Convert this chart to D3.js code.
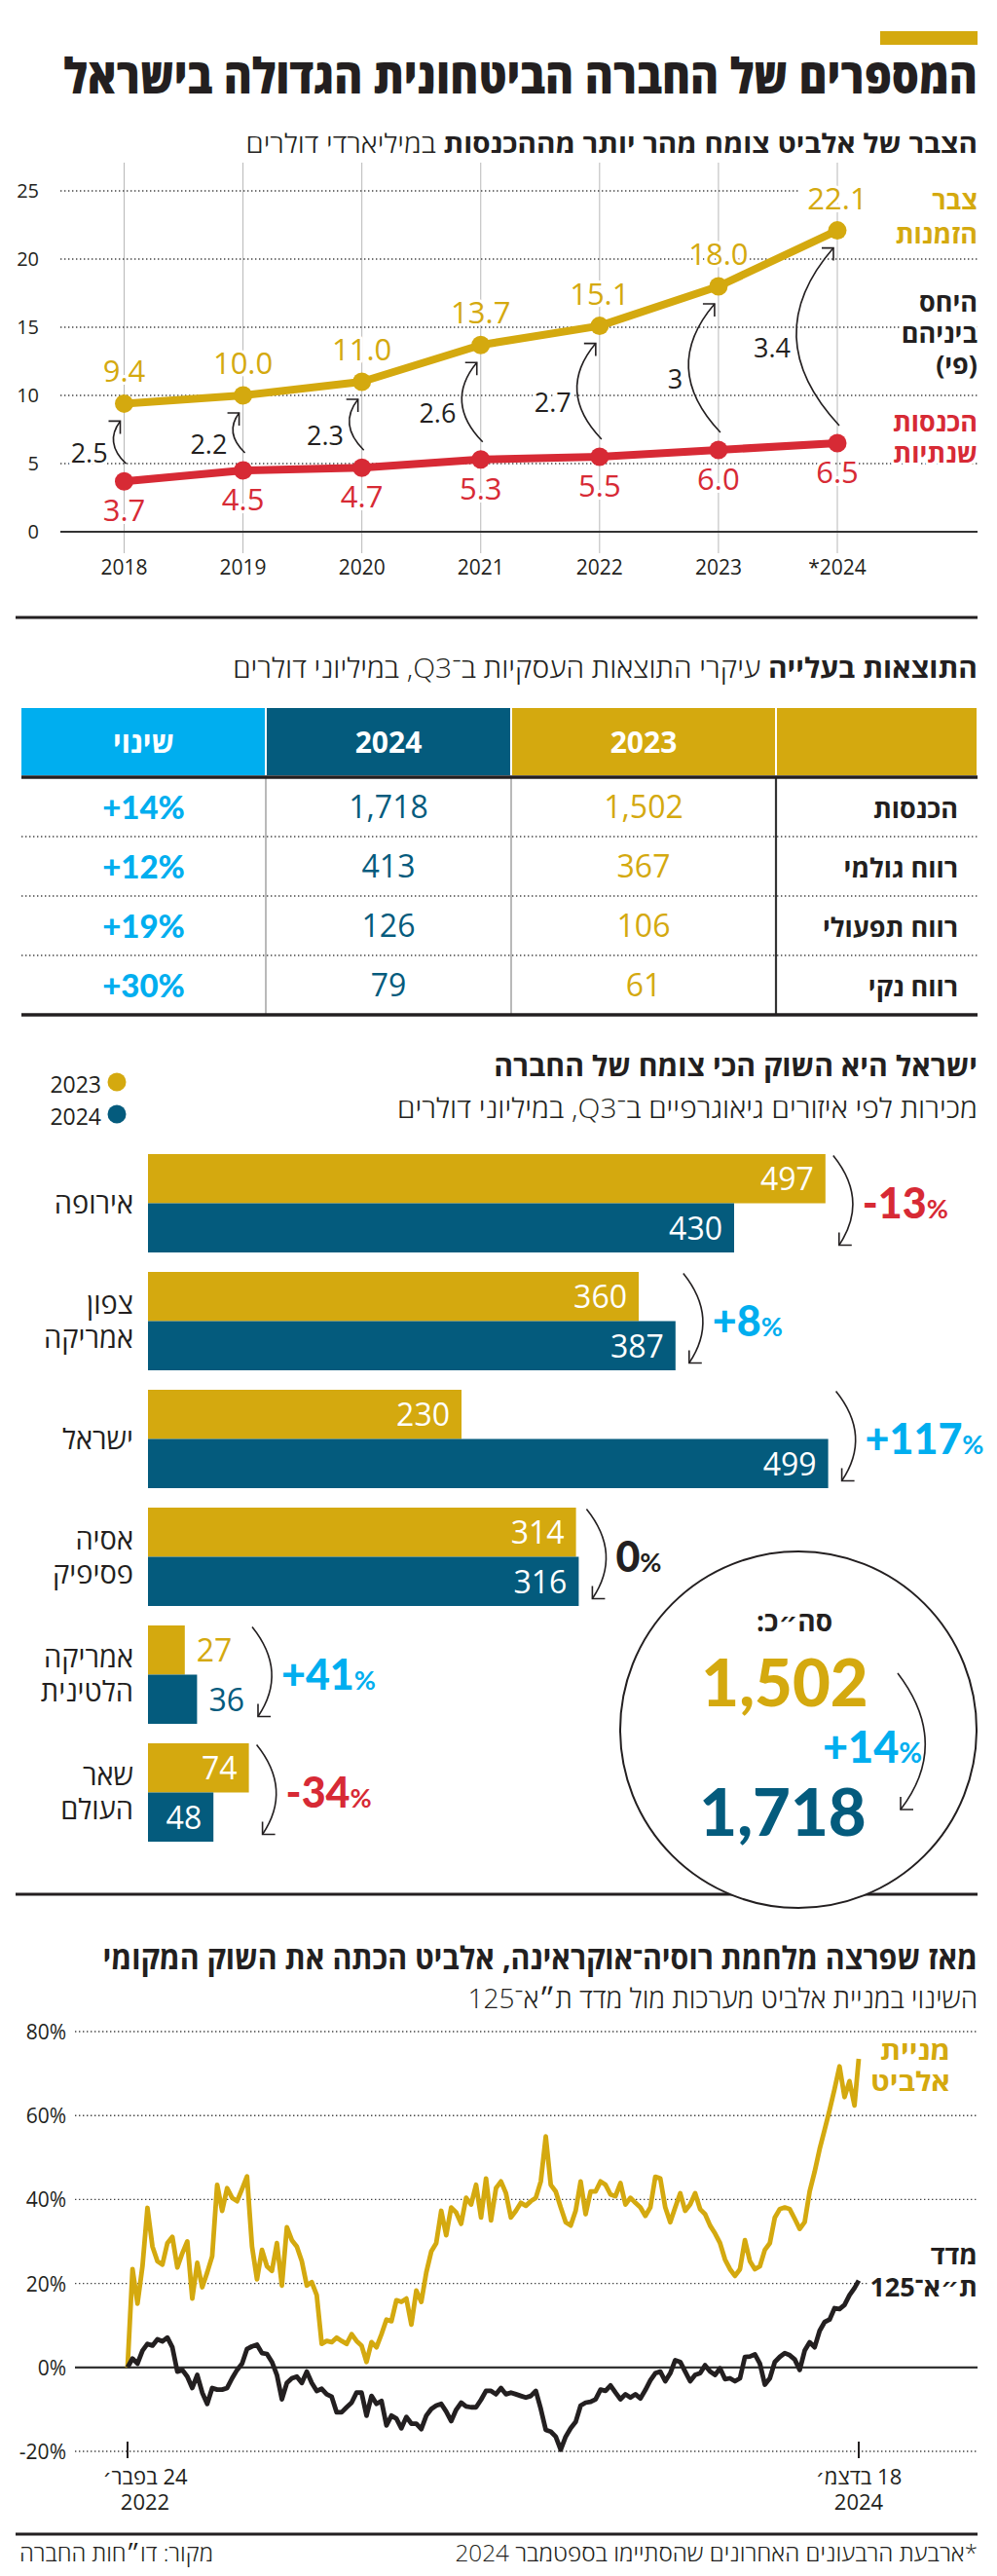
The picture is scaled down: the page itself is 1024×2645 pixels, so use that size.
<!DOCTYPE html>
<html lang="he"><head><meta charset="utf-8">
<script src="https://cdn.jsdelivr.net/npm/d3@7/dist/d3.min.js"></script>
<style>html,body{margin:0;padding:0;background:#fff}svg{display:block}</style>
</head><body>
<svg id="c" width="1024" height="2645" xmlns="http://www.w3.org/2000/svg"></svg>
<script>
// ================= DATA =================
const years = ["2018","2019","2020","2021","2022","2023","*2024"];
const backlog = [9.4,10.0,11.0,13.7,15.1,18.0,22.1];
const revenue = [3.7,4.5,4.7,5.3,5.5,6.0,6.5];
const ratio = ["2.5","2.2","2.3","2.6","2.7","3","3.4"];
const yTicks1 = [0,5,10,15,20,25];

const tableRows = ["הכנסות","רווח גולמי","רווח תפעולי","רווח נקי"];
const table2023 = [1502,367,106,61];
const table2024 = [1718,413,126,79];
const tableChange = ["+14%","+12%","+19%","+30%"];
const tableHeaders = ["שינוי","2024","2023",""];

const regions = [["אירופה"],["צפון","אמריקה"],["ישראל"],["אסיה","פסיפיק"],["אמריקה","הלטינית"],["שאר","העולם"]];
const sales2023 = [497,360,230,314,27,74];
const sales2024 = [430,387,499,316,36,48];
const salesChange = ["-13","+8","+117","0","+41","-34"];
const totalChange = "+14";

const stockStart = "2022-02-24", stockEnd = "2024-12-18";
const elbit = [0,23.4,15.2,24.1,38.0,28.8,25.3,24.5,29.6,31.1,23.8,27.2,30.0,16.4,24.9,19.1,22.6,26.5,43.5,37.3,
 42.7,40.4,39.6,42.5,45.5,28.8,21.0,28.0,24.1,23.0,29.6,19.5,33.4,30.3,28.8,25.3,19.5,20.3,17.2,5.6,
 6.3,6.0,7.1,6.3,5.6,7.9,6.3,5.2,1.3,6.0,4.8,7.9,11.4,11.0,16.0,15.6,16.4,10.2,18.3,15.6,
 22.6,27.6,29.6,37.3,31.5,38.1,36.9,34.2,40.4,38.8,43.5,35.7,45.0,35.0,42.7,44.3,41.5,35.7,37.3,39.2,
 38.5,39.6,40.4,44.3,55.0,43.5,41.9,38.1,34.6,33.8,37.3,44.3,36.5,41.9,41.9,44.3,43.5,41.2,40.8,43.9,
 38.8,40.4,39.2,38.1,36.1,38.1,45.4,45.0,38.1,34.6,38.1,41.5,37.3,38.8,41.5,37.7,36.5,33.8,31.9,29.6,
 25.7,23.4,21.8,23.4,30.3,25.3,23.4,24.1,28.0,29.6,35.7,37.7,38.1,37.7,35.4,33.0,34.6,41.9,46.6,52.0,
 56.6,61.3,66.3,71.7,64.4,68.2,62.4,73.5];
const ta125 = [0,2.1,0.9,4.0,5.6,5.2,6.7,6.2,7.1,4.8,-1.0,-0.6,-2.2,-4.9,-1.8,-6.0,-8.7,-4.9,-5.3,-5.3,
 -4.9,-2.6,-0.6,0.9,4.4,5.0,5.4,3.4,3.2,1.3,-1.8,-7.6,-3.7,-2.6,-2.2,-3.7,-1.0,-3.7,-5.6,-5.1,
 -6.4,-7.0,-10.7,-10.7,-9.5,-8.4,-6.0,-6.0,-11.5,-6.8,-8.7,-8.0,-13.8,-11.5,-12.2,-14.5,-11.8,-13.4,-13.4,-14.7,
 -11.5,-9.9,-9.1,-8.7,-10.5,-12.8,-10.1,-8.4,-9.3,-9.5,-9.5,-7.7,-5.6,-5.6,-6.4,-4.9,-6.4,-6.0,-6.4,-6.8,
 -7.2,-6.8,-5.6,-9.9,-14.9,-15.3,-16.5,-19.6,-16.5,-14.5,-13.0,-9.1,-8.4,-8.2,-7.6,-5.3,-5.6,-4.3,-6.0,-7.6,
 -6.4,-7.2,-6.4,-7.4,-5.4,-3.1,-1.4,-1.0,-3.3,-1.4,1.7,1.3,-1.0,-3.3,-1.8,-1.4,0.5,-1.0,-1.8,-0.2,
 -2.8,-2.6,-3.3,-2.6,2.5,2.6,3.1,0.9,-4.1,-2.6,1.3,2.5,3.4,2.9,1.9,-0.6,4.0,6.0,4.8,8.7,
 10.8,11.4,14.1,13.9,14.9,17.2,18.9,20.7];
const yTicks4 = [-20,0,20,40,60,80];
const stockTickLabels = [["24 בפבר׳","2022"],["18 בדצמ׳","2024"]];

// ================= STYLE =================
const GOLD="#d4a90f", RED="#d72a35", NAVY="#045b7d", CYAN="#00aeef", INK="#231f20";
const HE='"Open Sans","DejaVu Sans",sans-serif';
const NARROW='"Liberation Sans Narrow","Open Sans",sans-serif';
const BIG='Lato,"Open Sans",sans-serif';
const svg=d3.select("#c");

function T(g,x,y,s,o={}){
  const t=g.append("text").attr("x",x).attr("y",y).text(s)
    .style("font-family",o.ff||HE).style("font-size",(o.fs||20)+"px").style("font-weight",o.fw||400)
    .attr("fill",o.fill||INK).attr("text-anchor",o.anchor||"middle");
  if(o.rtl) t.attr("direction","rtl");
  if(o.halo) t.attr("stroke","#fff").attr("stroke-width",o.halo).attr("stroke-linejoin","round").attr("paint-order","stroke");
  return t;
}
function TP(g,x,y,parts,o={}){
  const t=g.append("text").attr("x",x).attr("y",y).attr("direction","rtl").attr("text-anchor",o.anchor||"start")
    .style("font-family",o.ff||HE).style("font-size",(o.fs||20)+"px").attr("fill",o.fill||INK);
  parts.forEach(([s,w])=>t.append("tspan").style("font-weight",w).text(s));
  return t;
}
// horizontal fit around the anchor point
function fit(t,w){const L=t.node().getComputedTextLength(), x=+t.attr("x");
  if(w>0 && L>0 && Math.abs(L-w)>2) t.attr("transform",`translate(${x},0) scale(${w/L},1) translate(${-x},0)`); return t;}
function hl(g,x1,x2,y,o={}){return g.append("line").attr("x1",x1).attr("x2",x2).attr("y1",y).attr("y2",y)
  .attr("stroke",o.c||INK).attr("stroke-width",o.w||3).attr("stroke-dasharray",o.dash||null);}
function vl(g,x,y1,y2,o={}){return g.append("line").attr("x1",x).attr("x2",x).attr("y1",y1).attr("y2",y2)
  .attr("stroke",o.c||INK).attr("stroke-width",o.w||1);}
const DOT="1.4 2.6";

// ================= HEADER =================
svg.append("rect").attr("x",904).attr("y",32).attr("width",100).attr("height",14).attr("fill",GOLD);
fit(T(svg,1004,96,"המספרים של החברה הביטחונית הגדולה בישראל",{fs:50,fw:800,rtl:1,anchor:"start"}),939);
fit(TP(svg,1004,157,[["הצבר של אלביט צומח מהר יותר מההכנסות ",700],["במיליארדי דולרים",300]],{fs:27}),752);

// ================= CHART 1 =================
const g1=svg.append("g");
const x1=d3.scalePoint().domain(years).range([127.5,860]);
const y1=d3.scaleLinear().domain([0,25]).range([546,196]);
years.forEach(yr=>vl(g1,x1(yr),167,568,{c:"#b8b8b8",w:1}));
yTicks1.filter(t=>t>0).forEach(t=>hl(g1,62,t===d3.max(yTicks1)?820:1004,y1(t),{c:"#444",w:1.4,dash:DOT}));
hl(g1,62,1004,y1(0),{c:"#333",w:2});
yTicks1.forEach(t=>T(g1,40,y1(t)+7,String(t),{fs:20,anchor:"end"}));
years.forEach(yr=>T(g1,x1(yr),590,yr,{fs:21}));

years.forEach((yr,i)=>{
  const px=x1(yr), top=[px-4,y1(backlog[i])+18], bot=[px+2,y1(revenue[i])-18];
  const len=bot[1]-top[1], ctrl=[px-1-0.45*len,(top[1]+bot[1])/2];
  g1.append("path").attr("d",`M${bot[0]},${bot[1]}Q${ctrl[0]},${ctrl[1]} ${top[0]},${top[1]}`)
    .attr("fill","none").attr("stroke",INK).attr("stroke-width",1.6);
  g1.append("path").attr("d",`M${top[0]-12},${top[1]}L${top[0]},${top[1]}L${top[0]},${top[1]+13}`)
    .attr("fill","none").attr("stroke",INK).attr("stroke-width",1.6);
  const bx=0.25*top[0]+0.5*ctrl[0]+0.25*bot[0];
  T(g1,bx-6,(top[1]+bot[1])/2+21,ratio[i],{fs:27,anchor:"end",halo:6});
});
const lineGen=d3.line().x((d,i)=>x1(years[i])).y(d=>y1(d));
[[revenue,RED],[backlog,GOLD]].forEach(([arr,col])=>{
  g1.append("path").datum(arr).attr("d",lineGen).attr("fill","none").attr("stroke",col).attr("stroke-width",8).attr("stroke-linejoin","round");
  g1.selectAll(null).data(arr).enter().append("circle").attr("cx",(d,i)=>x1(years[i])).attr("cy",d=>y1(d)).attr("r",9.5).attr("fill",col);
});
backlog.forEach((v,i)=>T(g1,x1(years[i]),y1(v)-22,d3.format(".1f")(v),{fs:31,fw:500,fill:GOLD,halo:6}));
revenue.forEach((v,i)=>T(g1,x1(years[i]),y1(v)+41,d3.format(".1f")(v),{fs:31,fw:500,fill:RED,halo:6}));
const legend1=[[["צבר",215],["הזמנות",250]],[["היחס",320],["ביניהם",352],["(פי)",384]],[["הכנסות",443],["שנתיות",475]]];
const legend1Col=[GOLD,INK,RED];
legend1.forEach((lines,i)=>lines.forEach(([s,y])=>T(g1,1004,y,s,{fs:27,fw:700,fill:legend1Col[i],rtl:1,anchor:"start",halo:6})));
hl(svg,16,1004,634,{w:3});

// ================= TABLE =================
const g2=svg.append("g");
fit(TP(g2,1004,696,[["התוצאות בעלייה ",700],["עיקרי התוצאות העסקיות ב־Q3, במיליוני דולרים",300]],{fs:28}),765);
const colEdges=[22,273,525,797,1004], colFills=[CYAN,NAVY,GOLD,GOLD];
colFills.forEach((f,i)=>{
  g2.append("rect").attr("x",colEdges[i]+(i?1:0)).attr("y",727).attr("width",colEdges[i+1]-colEdges[i]-(i?2:1)).attr("height",69).attr("fill",f);
  if(tableHeaders[i]) T(g2,(colEdges[i]+colEdges[i+1])/2,773,tableHeaders[i],{fs:30,fw:700,fill:"#fff",rtl:1});
});
const yr2=d3.scaleBand().domain(tableRows).range([798,1042]);
tableRows.slice(1).forEach(r=>hl(g2,22,1004,yr2(r),{c:"#444",w:1.4,dash:DOT}));
vl(g2,273,798,1042,{c:"#8a8a8a",w:1.2});vl(g2,525,798,1042,{c:"#8a8a8a",w:1.2});vl(g2,797,798,1042,{c:"#333",w:2.2});
hl(g2,22,1004,798,{w:3.5});hl(g2,22,1004,1042,{w:3.5});
const fmt=d3.format(",");
tableRows.forEach((r,i)=>{
  const cy=yr2(r)+yr2.bandwidth()/2+11;
  T(g2,984,cy,r,{fs:27,fw:700,rtl:1,anchor:"start"});
  T(g2,(colEdges[2]+colEdges[3])/2,cy,fmt(table2023[i]),{ff:NARROW,fs:32,fill:GOLD});
  T(g2,(colEdges[1]+colEdges[2])/2,cy,fmt(table2024[i]),{ff:NARROW,fs:32,fill:NAVY});
  T(g2,(colEdges[0]+colEdges[1])/2,cy+1,tableChange[i],{ff:BIG,fs:33,fw:900,fill:CYAN});
});

// ================= BARS =================
const g3=svg.append("g");
fit(T(g3,1004,1105,"ישראל היא השוק הכי צומח של החברה",{fs:29,fw:700,rtl:1,anchor:"start"}),497);
fit(T(g3,1004,1148,"מכירות לפי איזורים גיאוגרפיים ב־Q3, במיליוני דולרים",{fs:28,fw:300,rtl:1,anchor:"start"}),596);
[["2023",GOLD,1111],["2024",NAVY,1144]].forEach(([s,c,y])=>{
  g3.append("circle").attr("cx",120).attr("cy",y).attr("r",9.5).attr("fill",c);
  T(g3,104,y+11,s,{fs:23,anchor:"end"});
});
const xb=d3.scaleLinear().domain([0,500]).range([152,852]);
const yb=d3.scaleBand().domain(d3.range(regions.length)).range([1185,1891]).paddingInner(20/121);
const bh=yb.bandwidth()/2;
regions.forEach((lab,i)=>{
  const y0=yb(i), gc=y0+bh;
  let maxExt=0;
  [[sales2023[i],GOLD,y0],[sales2024[i],NAVY,y0+bh]].forEach(([v,c,yy])=>{
    g3.append("rect").attr("x",xb(0)).attr("y",yy).attr("width",xb(v)-xb(0)).attr("height",bh).attr("fill",c);
    const t=T(g3,xb(v)-12,yy+bh/2+12,String(v),{ff:NARROW,fs:32,fill:"#fff",anchor:"end"});
    const w=t.node().getComputedTextLength();
    let ext=xb(v);
    if(w+16>xb(v)-xb(0)){t.attr("x",xb(v)+12).attr("text-anchor","start").attr("fill",c);ext=xb(v)+12+w;}
    maxExt=Math.max(maxExt,ext);
  });
  if(lab.length===1) T(g3,137,gc+10,lab[0],{fs:29,rtl:1,anchor:"start"});
  else {T(g3,137,gc-8,lab[0],{fs:29,rtl:1,anchor:"start"});T(g3,137,gc+27,lab[1],{fs:29,rtl:1,anchor:"start"});}
  const s=[maxExt+8,gc-49], e=[maxExt+14,gc+43], c=[maxExt+45,gc-3];
  g3.append("path").attr("d",`M${s[0]},${s[1]}Q${c[0]},${c[1]} ${e[0]},${e[1]}`).attr("fill","none").attr("stroke",INK).attr("stroke-width",1.6);
  g3.append("path").attr("d",`M${e[0]},${e[1]-13}L${e[0]},${e[1]}L${e[0]+13},${e[1]}`).attr("fill","none").attr("stroke",INK).attr("stroke-width",1.6);
  const ch=salesChange[i], col=ch.startsWith("-")?RED:(ch==="0"?INK:CYAN);
  const t=g3.append("text").attr("x",maxExt+38).attr("y",gc+15).attr("fill",col).style("font-family",BIG);
  t.append("tspan").style("font-size","43px").style("font-weight",900).text(ch);
  t.append("tspan").style("font-size","27px").style("font-weight",700).text("%");
});
hl(svg,16,1004,1945,{w:3});
// total circle
const gT=svg.append("g");
gT.append("circle").attr("cx",820).attr("cy",1776).attr("r",183).attr("fill","#fff").attr("stroke",INK).attr("stroke-width",2);
T(gT,816,1675,"סה״כ:",{fs:28,fw:700,rtl:1});
T(gT,806,1752,fmt(table2023[0]),{ff:BIG,fs:67,fw:900,fill:GOLD});
T(gT,804,1885,fmt(table2024[0]),{ff:BIG,fs:67,fw:900,fill:NAVY});
{const t=gT.append("text").attr("x",845).attr("y",1810).attr("fill",CYAN).style("font-family",BIG);
 t.append("tspan").style("font-size","45px").style("font-weight",900).text(totalChange);
 t.append("tspan").style("font-size","29px").style("font-weight",700).text("%");}
gT.append("path").attr("d","M922,1718Q977,1790 925,1858").attr("fill","none").attr("stroke",INK).attr("stroke-width",1.6);
gT.append("path").attr("d","M925,1845L925,1858L938,1858").attr("fill","none").attr("stroke",INK).attr("stroke-width",1.6);

// ================= STOCK =================
const g4=svg.append("g");
fit(T(g4,1004,2022,"מאז שפרצה מלחמת רוסיה־אוקראינה, אלביט הכתה את השוק המקומי",{fs:32,fw:700,rtl:1,anchor:"start"}),899);
fit(T(g4,1004,2062,"השינוי במניית אלביט מערכות מול מדד ת״א־125",{fs:28,fw:300,rtl:1,anchor:"start"}),524);
const d0=d3.timeParse("%Y-%m-%d")(stockStart), d1=d3.timeParse("%Y-%m-%d")(stockEnd);
const dates=elbit.map((_,i)=>i===elbit.length-1?d1:d3.timeDay.offset(d0,7*i));
const xs=d3.scaleTime().domain([d0,d1]).range([131,882]);
const ys=d3.scaleLinear().domain([-20,80]).range([2517,2086]);
yTicks4.forEach(t=>{
  if(t===0) hl(g4,77,1004,ys(t),{c:"#333",w:2.2}); else hl(g4,77,1004,ys(t),{c:"#444",w:1.4,dash:DOT});
  T(g4,68,ys(t)+8,t+"%",{fs:21,anchor:"end"});
});
const sl=d3.line().x((d,i)=>xs(dates[i])).y(d=>ys(d)).curve(d3.curveLinear);
g4.append("path").datum(elbit).attr("d",sl).attr("fill","none").attr("stroke",GOLD).attr("stroke-width",4.8).attr("stroke-linejoin","round");
g4.append("path").datum(ta125).attr("d",sl).attr("fill","none").attr("stroke",INK).attr("stroke-width",4.8).attr("stroke-linejoin","round");
fit(T(g4,976,2115,"מניית",{fs:27,fw:700,fill:GOLD,rtl:1,anchor:"start",halo:6}),72);
fit(T(g4,976,2147,"אלביט",{fs:27,fw:700,fill:GOLD,rtl:1,anchor:"start",halo:6}),82);
T(g4,1004,2325,"מדד",{fs:27,fw:700,rtl:1,anchor:"start",halo:6});
T(g4,1004,2358,"ת״א־125",{fs:27,fw:700,rtl:1,anchor:"start",halo:6});
[[d0,18],[d1,0]].forEach(([d,off],i)=>{
  vl(g4,xs(d),2507,2524,{w:2});
  T(g4,xs(d)+off,2551,stockTickLabels[i][0],{fs:22,rtl:1});
  T(g4,xs(d)+off,2577,stockTickLabels[i][1],{fs:22});
});
hl(svg,16,1004,2602,{w:3});
fit(T(svg,1004,2630,"*ארבעת הרבעונים האחרונים שהסתיימו בספטמבר 2024",{fs:23,fw:300,rtl:1,anchor:"start"}),537);
fit(T(svg,219,2630,"מקור: דו״חות החברה",{fs:23,fw:300,rtl:1,anchor:"start"}),199);
</script>
</body></html>
